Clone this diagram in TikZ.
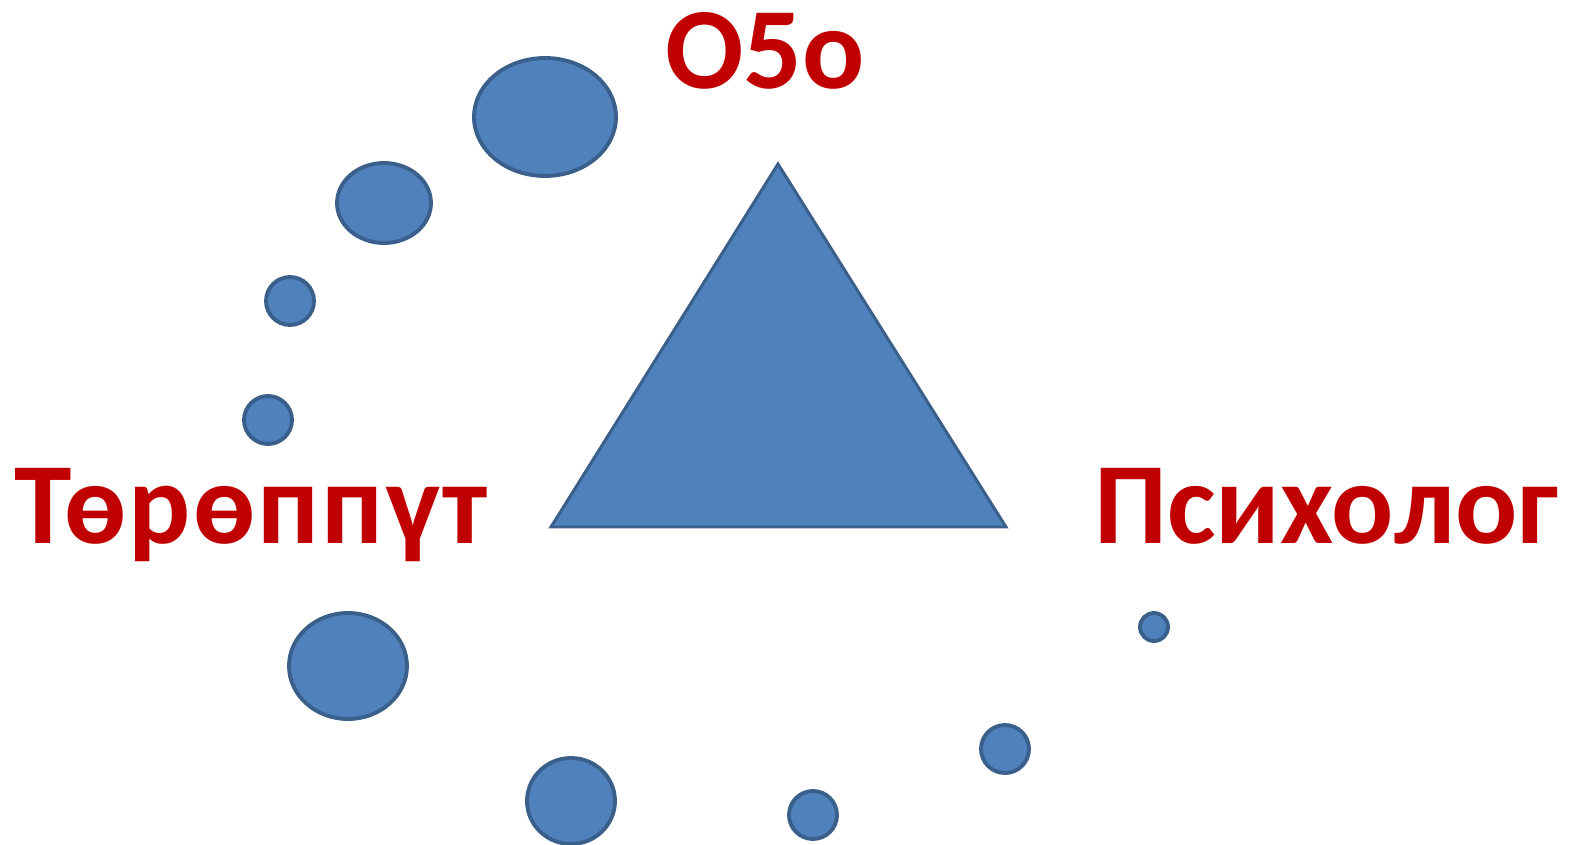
\documentclass[tikz,border=0pt]{standalone}
\usepackage{fontspec}
\setmainfont{Carlito}
\definecolor{blu}{HTML}{4F81BD}
\definecolor{bordo}{HTML}{3A5F8B}
\definecolor{rosso}{HTML}{C00000}
\tikzset{
  bolla/.style={fill=blu,draw=bordo,line width=2.2pt},
  etichetta/.style={text=rosso,font=\fontsize{66}{66}\selectfont\bfseries,inner sep=0pt}
}
\begin{document}
\begin{tikzpicture}[x=0.02cm,y=-0.02cm]
        \useasboundingbox (0,0) rectangle (1569,845);
        %disegno triangolo
        \draw[bolla,line width=1.7pt] (778,164)--(1006,527)--(551,527)--cycle;

        %disegno bolle
        \draw[bolla] (545,117) ellipse [x radius=71,y radius=59];
        \draw[bolla] (384,203) ellipse [x radius=47,y radius=40];
        \draw[bolla] (290,301) circle [radius=24];
        \draw[bolla] (268,420) circle [radius=24];
        \draw[bolla] (348,666) ellipse [x radius=59,y radius=53];
        \draw[bolla] (571,801) ellipse [x radius=44,y radius=43];
        \draw[bolla] (813,815) circle [radius=24];
        \draw[bolla] (1005,749) circle [radius=24];
        \draw[bolla] (1154,627) circle [radius=14];

        %scrivo nomi
        \node[etichetta,anchor=base] (obo) at (765,88) {О5о};
        \node[etichetta,anchor=base west] (tor) at (14,543) {\addfontfeature{LetterSpace=1.8}Төрөппүт};
        \node[etichetta,anchor=base west] (psi) at (1094,543) {Психолог};
\end{tikzpicture}
\end{document}
